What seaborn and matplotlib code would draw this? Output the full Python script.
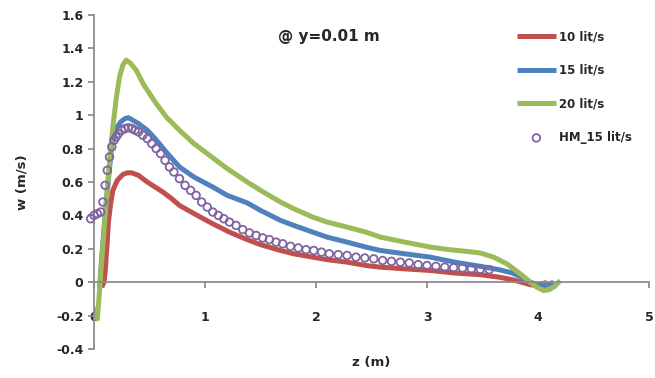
import matplotlib
matplotlib.use("Agg")
import matplotlib.pyplot as plt
import seaborn as sns
import pandas as pd

# ---- data ----
x_10 = [0.07, 0.09, 0.10, 0.12, 0.13, 0.15, 0.17, 0.21, 0.26, 0.30, 0.34, 0.40, 0.48, 0.55, 0.62,
        0.70, 0.77, 0.85, 0.93, 1.07, 1.22, 1.38, 1.50, 1.68, 1.80, 1.97, 2.10, 2.28, 2.45, 2.58,
        2.80, 3.03, 3.25, 3.48, 3.65, 3.77, 3.85, 3.93, 4.00, 4.08]
y_10 = [-0.03, 0.0, 0.06, 0.25, 0.36, 0.47, 0.55, 0.61, 0.645, 0.655, 0.655, 0.64, 0.60, 0.57, 0.54,
        0.50, 0.46, 0.43, 0.40, 0.35, 0.30, 0.255, 0.225, 0.19, 0.17, 0.15, 0.135, 0.12, 0.10, 0.09,
        0.08, 0.07, 0.055, 0.045, 0.03, 0.015, 0.0, -0.015, -0.02, 0.0]

x_15 = [0.05, 0.07, 0.09, 0.12, 0.16, 0.20, 0.24, 0.28, 0.31, 0.35, 0.40, 0.48, 0.55, 0.65, 0.77,
        0.90, 1.07, 1.20, 1.38, 1.50, 1.68, 1.80, 1.97, 2.10, 2.28, 2.45, 2.58, 2.80, 3.03, 3.25,
        3.48, 3.65, 3.77, 3.85, 3.93, 4.00, 4.07, 4.14]
y_15 = [-0.03, 0.15, 0.32, 0.55, 0.82, 0.92, 0.96, 0.98, 0.985, 0.97, 0.95, 0.91, 0.86, 0.78, 0.69,
        0.63, 0.57, 0.52, 0.475, 0.43, 0.37, 0.34, 0.30, 0.27, 0.24, 0.21, 0.19, 0.17, 0.15, 0.12,
        0.095, 0.075, 0.055, 0.03, 0.0, -0.015, -0.02, 0.0]

x_20 = [0.02, 0.03, 0.05, 0.08, 0.11, 0.14, 0.17, 0.20, 0.23, 0.26, 0.29, 0.33, 0.38, 0.45, 0.55,
        0.65, 0.77, 0.90, 1.07, 1.20, 1.38, 1.50, 1.68, 1.80, 1.97, 2.10, 2.28, 2.45, 2.58, 2.80,
        3.03, 3.20, 3.35, 3.48, 3.60, 3.72, 3.80, 3.86, 3.93, 3.99, 4.05, 4.10, 4.15, 4.20]
y_20 = [-0.15, -0.22, -0.05, 0.22, 0.48, 0.72, 0.93, 1.10, 1.23, 1.30, 1.33, 1.31, 1.27, 1.18, 1.08,
        0.99, 0.91, 0.83, 0.745, 0.68, 0.60, 0.55, 0.48, 0.44, 0.39, 0.36, 0.33, 0.30, 0.27, 0.24,
        0.21, 0.195, 0.185, 0.175, 0.15, 0.11, 0.07, 0.04, 0.0, -0.03, -0.05, -0.045, -0.025, 0.01]

x_hm = [-0.03, 0.0, 0.03, 0.06, 0.08, 0.10, 0.12, 0.14, 0.16, 0.18, 0.20, 0.22, 0.25, 0.28, 0.31,
        0.34, 0.37, 0.40, 0.44, 0.48, 0.52, 0.56, 0.60, 0.64, 0.68, 0.72, 0.77, 0.82, 0.87, 0.92,
        0.97, 1.02, 1.07, 1.12, 1.17, 1.22, 1.28, 1.34, 1.40, 1.46, 1.52, 1.58, 1.64, 1.70, 1.77,
        1.84, 1.91, 1.98, 2.05, 2.12, 2.20, 2.28, 2.36, 2.44, 2.52, 2.60, 2.68, 2.76, 2.84, 2.92,
        3.00, 3.08, 3.16, 3.24, 3.32, 3.40, 3.48, 3.56]
y_hm = [0.38, 0.40, 0.41, 0.42, 0.48, 0.58, 0.67, 0.75, 0.81, 0.85, 0.87, 0.89, 0.91, 0.92, 0.925,
        0.92, 0.91, 0.90, 0.88, 0.86, 0.83, 0.80, 0.77, 0.73, 0.69, 0.66, 0.62, 0.58, 0.55, 0.52,
        0.48, 0.45, 0.42, 0.40, 0.38, 0.36, 0.34, 0.315, 0.295, 0.28, 0.265, 0.255, 0.24, 0.23, 0.215,
        0.205, 0.195, 0.19, 0.18, 0.17, 0.165, 0.16, 0.15, 0.145, 0.14, 0.13, 0.125, 0.12, 0.115, 0.105,
        0.10, 0.095, 0.09, 0.087, 0.085, 0.08, 0.077, 0.075]

series_labels = ["10 lit/s", "15 lit/s", "20 lit/s", "HM_15 lit/s"]
series_colors = ["#C0504D", "#4F81BD", "#9BBB59", "#8064A2"]
x_ticks = [0, 1, 2, 3, 4, 5]
y_ticks = [-0.4, -0.2, 0, 0.2, 0.4, 0.6, 0.8, 1.0, 1.2, 1.4, 1.6]
y_tick_labels = ["-0.4", "-0.2", "0", "0.2", "0.4", "0.6", "0.8", "1", "1.2", "1.4", "1.6"]
x_label = "z (m)"
y_label = "w (m/s)"
annotation = "@ y=0.01 m"

# ---- plot ----
sns.set_style("white")
plt.rcParams["font.family"] = ["DejaVu Sans"]

fig = plt.figure(figsize=(6.55, 3.78), dpi=100)
ax = fig.add_axes([94 / 655, 1 - 349 / 378, (649 - 94) / 655, (349 - 15) / 378])

lines = [(x_10, y_10), (x_15, y_15), (x_20, y_20)]
for (xs, ys), lab, col in zip(lines, series_labels[:3], series_colors[:3]):
    df = pd.DataFrame({"z": xs, "w": ys})
    sns.lineplot(data=df, x="z", y="w", color=col, lw=3.6, label=lab, ax=ax,
                 sort=False, estimator=None, solid_capstyle="butt")

df_hm = pd.DataFrame({"z": x_hm, "w": y_hm})
sns.scatterplot(data=df_hm, x="z", y="w", ax=ax, marker="o", s=30,
                facecolor="none", edgecolor=series_colors[3], linewidth=1.3,
                label=series_labels[3], zorder=3, clip_on=False)

ax.set_xlim(0, 5)
ax.set_ylim(-0.4, 1.6)
ax.set_xticks(x_ticks)
ax.set_xticklabels([str(t) for t in x_ticks])
ax.set_yticks(y_ticks)
ax.set_yticklabels(y_tick_labels)

for s in ["top", "right"]:
    ax.spines[s].set_visible(False)
ax.spines["bottom"].set_position(("data", 0))
for s in ["left", "bottom"]:
    ax.spines[s].set_color("#8C8C8C")
    ax.spines[s].set_linewidth(1.3)

ax.tick_params(axis="y", direction="out", length=4.5, width=1.3, color="#8C8C8C",
               pad=3, labelsize=9, left=True)
ax.tick_params(axis="x", direction="out", length=4, width=1.3, color="#8C8C8C",
               pad=17, labelsize=9, bottom=True)
for lbl in ax.get_xticklabels() + ax.get_yticklabels():
    lbl.set_fontweight("bold")

ax.set_xlabel(x_label, fontsize=9.5, fontweight="bold", labelpad=0)
ax.xaxis.set_label_coords(0.5, -0.022)
ax.set_ylabel(y_label, fontsize=9.5, fontweight="bold")
ax.yaxis.set_label_coords(-0.118, 0.5)

ax.text(1.66, 1.47, annotation, fontsize=11, fontweight="bold", va="center", ha="left")

leg = ax.legend(loc="upper left", bbox_to_anchor=(0.762, 0.955), frameon=False,
                fontsize=8.5, handlelength=3.3, handletextpad=0.3, labelspacing=1.75,
                borderpad=0, borderaxespad=0)
for t in leg.get_texts():
    t.set_fontweight("bold")

fig.savefig("out.png", dpi=100)
